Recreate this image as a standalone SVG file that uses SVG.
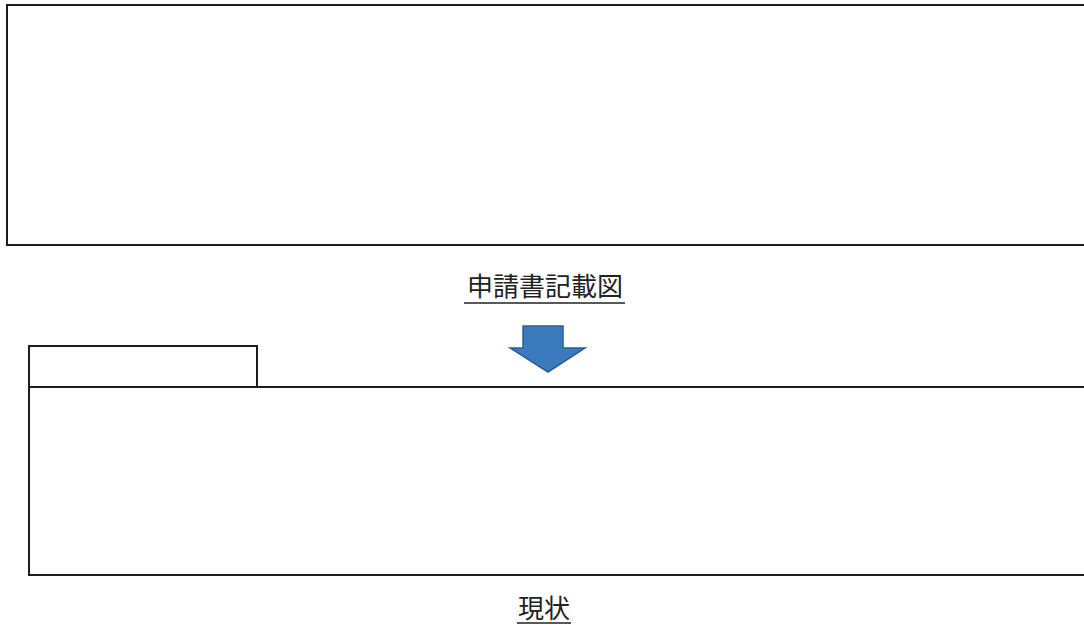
<svg xmlns="http://www.w3.org/2000/svg" width="1084" height="625" viewBox="0 0 1084 625">
<style>
.ln{fill:none;stroke:#1e1e1e;stroke-width:2}
.lbl{font-family:"Noto Sans CJK JP",sans-serif;font-size:26px;fill:#222;text-anchor:middle}
.ul{stroke:#222;stroke-width:1.5}
</style>
<rect width="1084" height="625" fill="#fff"/>
<g id="plan-top">
<path class="ln" d="M1090,5 H7 V245 H1090"/>
</g>
<g id="label-top">
<text class="lbl" x="545" y="296">申請書記載図</text>
<line class="ul" x1="464" y1="303" x2="625" y2="303"/>
</g>
<g id="connectors">
<path d="M523,326 H563 V348 H585 L548,372 L510,348 H523 Z" fill="#3b7bbd" stroke="#2b5f96" stroke-width="1.5"/>
</g>
<g id="plan-bottom">
<path class="ln" d="M1090,387 H29 V575 H1090"/>
<path class="ln" d="M29,387 V346 H257 V387"/>
</g>
<g id="label-bottom">
<text class="lbl" x="544" y="618">現状</text>
<line class="ul" x1="517" y1="623" x2="571" y2="623"/>
</g>
</svg>
